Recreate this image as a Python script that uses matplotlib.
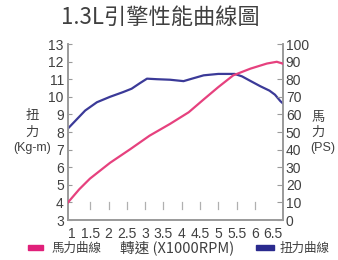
import matplotlib
matplotlib.use("Agg")
import matplotlib.pyplot as plt
from matplotlib.patches import Rectangle

plt.rcParams['font.family'] = ['Liberation Sans Narrow', 'Liberation Sans', 'Noto Sans CJK TC', 'DejaVu Sans']

# Data (rpm in x1000)
torque_rpm = [0.89, 1.36, 1.68, 2.04, 2.4, 2.63, 2.86, 3.05, 3.32, 3.68, 4.05, 4.28, 4.6, 5.0, 5.45, 5.65, 5.88, 6.15, 6.4, 6.55, 6.7, 6.77]
torque_kgm = [8.2, 9.22, 9.69, 10.0, 10.27, 10.46, 10.78, 11.03, 11.0, 10.97, 10.89, 11.03, 11.22, 11.3, 11.3, 11.16, 10.9, 10.6, 10.35, 10.12, 9.75, 9.62]

power_rpm = [0.89, 1.2, 1.49, 2.04, 2.59, 3.12, 3.68, 4.19, 4.6, 5.0, 5.41, 5.88, 6.33, 6.6, 6.77]
power_ps = [10, 17.5, 23.5, 32.5, 40.2, 47.9, 54.6, 61.2, 68.5, 75.5, 82.2, 86.0, 88.9, 89.9, 88.8]

xticks = [1, 1.5, 2, 2.5, 3, 3.5, 4, 4.5, 5, 5.5, 6, 6.5]
xtick_labels = ['1', '1.5', '2', '2.5', '3', '3.5', '4', '4.5', '5', '5.5', '6', '6.5']
left_ticks = list(range(3, 14))
right_ticks = list(range(0, 101, 10))

title = '1.3L引擎性能曲線圖'
xlabel = '轉速 (X1000RPM)'
power_name = '馬力曲線'
torque_name = '扭力曲線'

pink = '#e6417e'
navy = '#3b3a98'
gray = '#9a9a9a'
txt = '#404040'
cjk = ['Noto Sans CJK TC', 'DejaVu Sans']
narrow = ['Liberation Sans Narrow', 'Liberation Sans', 'DejaVu Sans']

fig = plt.figure(figsize=(3.38, 2.6), dpi=100)
ax = fig.add_axes([68/338, 40/260, (283-68)/338, (220-44)/260])
ax2 = ax.twinx()

ax.plot(torque_rpm, torque_kgm, color=navy, lw=1.6, zorder=3)
ax2.plot(power_rpm, power_ps, color=pink, lw=1.6, zorder=3)

ax.set_xlim(0.89, 6.77)
ax.set_ylim(3, 13)
ax2.set_ylim(0, 100)

for a in (ax, ax2):
    a.spines['top'].set_visible(False)
    for s in ('left', 'right', 'bottom'):
        a.spines[s].set_color(gray)
        a.spines[s].set_linewidth(1.2)

ax.set_yticks(left_ticks)
ax.set_yticklabels([str(t) for t in left_ticks], family=narrow, fontsize=10, color=txt)
ax.tick_params(axis='y', direction='in', length=3, color=gray, pad=3)
ax2.set_yticks(right_ticks)
ax2.set_yticklabels([str(t) for t in right_ticks], family=narrow, fontsize=10, color=txt)
ax2.tick_params(axis='y', direction='in', length=4, color=gray, pad=2)

ax.set_xticks(xticks)
ax.set_xticklabels(xtick_labels, family=narrow, fontsize=10, color=txt)
ax.tick_params(axis='x', length=0, pad=5)
# small inner marks above the baseline
for t in xticks[1:-1]:
    ax.plot([t, t], [3.6, 4.0], color='#b0b0b0', lw=0.9, zorder=1)

fig.text(160/338, 1 - 17/260, title, family=cjk, fontsize=16, color=txt,
         ha='center', va='center')

fig.text(32/338, 1 - 115/260, '扭', family=cjk, fontsize=9.5, color=txt, ha='center', va='center')
fig.text(32/338, 1 - 132/260, '力', family=cjk, fontsize=9.5, color=txt, ha='center', va='center')
fig.text(32/338, 1 - 148/260, '(Kg-m)', family=narrow, fontsize=9, color=txt, ha='center', va='center')

fig.text(318/338, 1 - 117/260, '馬', family=cjk, fontsize=9.5, color=txt, ha='center', va='center')
fig.text(318/338, 1 - 132/260, '力', family=cjk, fontsize=9.5, color=txt, ha='center', va='center')
fig.text(323/338, 1 - 148/260, '(PS)', family=narrow, fontsize=9, color=txt, ha='center', va='center')

# bottom legend
fig.patches.append(Rectangle((28/338, 1 - 250/260), 15/338, 5/260, transform=fig.transFigure,
                             color='#e0207a', figure=fig))
fig.text(52/338, 1 - 248/260, power_name, family=cjk, fontsize=9, color=txt, ha='left', va='center')
fig.text(177/338, 1 - 248/260, xlabel, family=cjk, fontsize=10.5, color=txt, ha='center', va='center')
fig.patches.append(Rectangle((256/338, 1 - 250/260), 18/338, 5/260, transform=fig.transFigure,
                             color='#2a2a8e', figure=fig))
fig.text(280/338, 1 - 248/260, torque_name, family=cjk, fontsize=9, color=txt, ha='left', va='center')

fig.savefig('out.png', dpi=100)
